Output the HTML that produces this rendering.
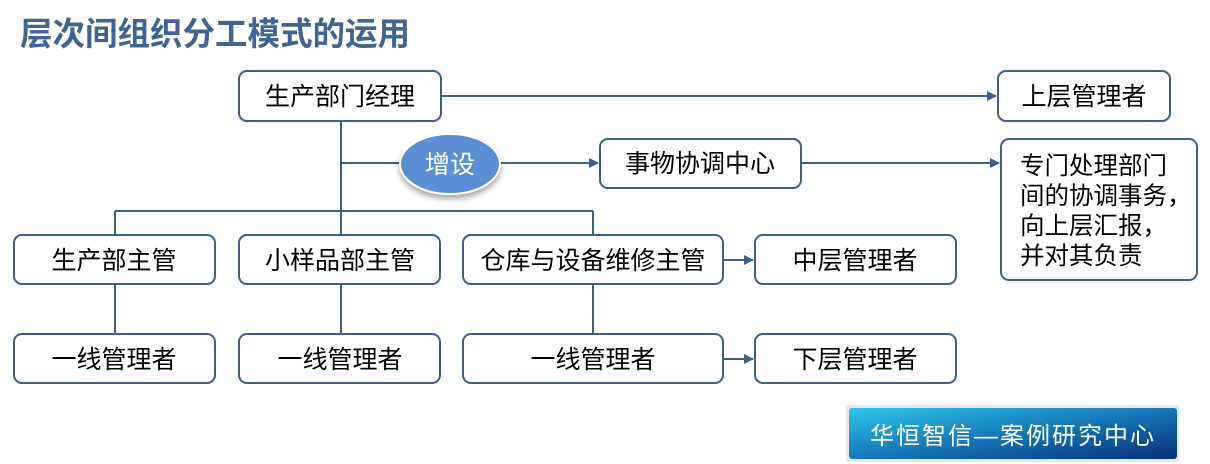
<!DOCTYPE html>
<html><head><meta charset="utf-8"><style>
html,body{margin:0;padding:0;background:#fff;}
svg{display:block;}
text{font-family:"Liberation Sans","Noto Sans CJK SC",sans-serif;}
</style></head><body>
<svg width="1210" height="464" viewBox="0 0 1210 464" xmlns="http://www.w3.org/2000/svg">
<defs>
<marker id="a" markerWidth="10" markerHeight="10" refX="9" refY="5" orient="auto" markerUnits="userSpaceOnUse">
<path d="M0,0 L10,5 L0,10 z" fill="#3c5f8f"/></marker>
<linearGradient id="bg" x1="0" y1="0" x2="1" y2="1">
<stop offset="0" stop-color="#2ec6ee"/><stop offset="0.5" stop-color="#1677b8"/><stop offset="1" stop-color="#0a2f78"/></linearGradient>
<filter id="sh" x="-20%" y="-20%" width="140%" height="150%"><feDropShadow dx="0" dy="4" stdDeviation="3" flood-color="#000" flood-opacity="0.35"/></filter>
</defs>
<text x="20" y="45" font-size="32.5" font-weight="bold" fill="#3d6494">层次间组织分工模式的运用</text>
<g stroke="#3c5f8f" stroke-width="2" fill="none">
<line x1="341" y1="121" x2="341" y2="235"/>
<line x1="341" y1="163" x2="598" y2="163" marker-end="url(#a)"/>
<line x1="115" y1="211" x2="593" y2="211"/>
<line x1="115" y1="211" x2="115" y2="235"/>
<line x1="593" y1="211" x2="593" y2="235"/>
<line x1="115" y1="284" x2="115" y2="334"/>
<line x1="341" y1="284" x2="341" y2="334"/>
<line x1="593" y1="284" x2="593" y2="334"/>
<line x1="441" y1="96" x2="996" y2="96" marker-end="url(#a)"/>
<line x1="801" y1="163" x2="999" y2="163" marker-end="url(#a)"/>
<line x1="723" y1="260" x2="753" y2="260" marker-end="url(#a)"/>
<line x1="723" y1="359" x2="753" y2="359" marker-end="url(#a)"/>
</g>
<g stroke="#3c5f8f" stroke-width="2" fill="#fff">
<rect x="239" y="71" width="202" height="50" rx="8"/>
<rect x="998" y="71" width="172" height="50" rx="8"/>
<rect x="600" y="139" width="201" height="49" rx="8"/>
<rect x="1001" y="139" width="196" height="141" rx="8"/>
<rect x="14" y="235" width="201" height="49" rx="8"/>
<rect x="239" y="235" width="201" height="49" rx="8"/>
<rect x="463" y="235" width="260" height="49" rx="8"/>
<rect x="755" y="235" width="201" height="49" rx="8"/>
<rect x="14" y="334" width="201" height="49" rx="8"/>
<rect x="239" y="334" width="201" height="49" rx="8"/>
<rect x="463" y="334" width="260" height="49" rx="8"/>
<rect x="755" y="334" width="201" height="49" rx="8"/>
</g>
<ellipse cx="450" cy="164" rx="50" ry="30" fill="#5a8fd5" stroke="#fff" stroke-width="2" filter="url(#sh)"/>
<g font-size="25" fill="#000" text-anchor="middle">
<text x="340" y="105">生产部门经理</text>
<text x="1084" y="105">上层管理者</text>
<text x="700" y="172">事物协调中心</text>
<text x="114" y="269">生产部主管</text>
<text x="340" y="269">小样品部主管</text>
<text x="593" y="269">仓库与设备维修主管</text>
<text x="855" y="269">中层管理者</text>
<text x="114" y="368">一线管理者</text>
<text x="340" y="368">一线管理者</text>
<text x="593" y="368">一线管理者</text>
<text x="855" y="368">下层管理者</text>
<text x="450" y="173" fill="#fff">增设</text>
</g>
<g font-size="24.5" fill="#000">
<text x="1020" y="174">专门处理部门</text>
<text x="1020" y="204">间的协调事务，</text>
<text x="1020" y="234">向上层汇报，</text>
<text x="1020" y="264">并对其负责</text>
</g>
<rect x="846" y="405" width="333" height="57" fill="#e4e8ee"/>
<rect x="849" y="408" width="328" height="51" rx="3" fill="url(#bg)"/>
<text x="1013" y="444" font-size="24" fill="#fff" text-anchor="middle" font-family="'Noto Serif CJK SC','Liberation Serif',serif" letter-spacing="2">华恒智信—案例研究中心</text>
</svg>
</body></html>
